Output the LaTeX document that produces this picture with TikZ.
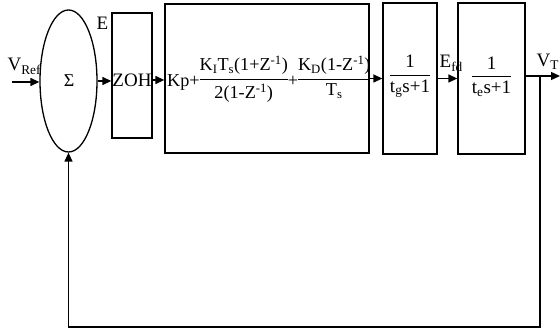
\documentclass[tikz,border=0pt]{standalone}
\usepackage{fontspec}
\usepackage{amsmath}
\setmainfont{Liberation Serif}
\usetikzlibrary{arrows.meta,shapes.geometric}

% transfer-function fraction with a heavier bar
\newcommand{\blockfrac}[2]{\genfrac{}{}{1.3pt}{0}{\text{#1}}{\text{#2}}}

\begin{document}
\begin{tikzpicture}[x=1pt,y=-1pt,line width=1.3pt,
  blk/.style={draw,line width=1.3pt,inner sep=0pt},
  lbl/.style={inner sep=0pt,font=\fontsize{19}{21}\selectfont},
  sig/.style={-{Triangle[length=9pt,width=8pt]}}]
\useasboundingbox (0,0) rectangle (560,331);

% summing junction
\node[blk,ellipse,minimum width=57pt,minimum height=142pt] (sum) at (68.5,81) {};
\node[inner sep=0pt,font=\fontsize{18}{20}\selectfont] (sigma) at (69,81) {Σ};

% blocks
\node[blk,minimum width=40pt,minimum height=125pt] (zoh) at (132,75.5) {};
\node[blk,minimum width=204pt,minimum height=149pt] (pid) at (267,78.5) {};
\node[blk,minimum width=54pt,minimum height=151pt] (b3) at (410,78.5) {};
\node[blk,minimum width=67pt,minimum height=151pt] (b4) at (491.5,78.5) {};

% block contents
\node[lbl,anchor=base] (zohtxt) at (132,87) {ZOH};
\node[lbl,anchor=base west,font=\fontsize{18.2}{20}\selectfont] (pidtxt) at (166.5,87) {\nulldelimiterspace=0pt Kp+\raisebox{3.5pt}{$\blockfrac{K\textsubscript{I}T\textsubscript{s}(1+Z\textsuperscript{-1})}{2(1-Z\textsuperscript{-1})}$}+\raisebox{3.5pt}{$\blockfrac{K\textsubscript{D}(1-Z\textsuperscript{-1})}{T\textsubscript{s}}$}};
\node[lbl] (g3) at (410,76.5) {$\blockfrac{1}{t\textsubscript{g}s+1}$};
\node[lbl] (g4) at (491.5,76.5) {$\blockfrac{1}{t\textsubscript{e}s+1}$};

% signal labels
\node[lbl,anchor=base west] (vref) at (7,71) {V\textsubscript{Ref}};
\node[lbl,anchor=base west] (elbl) at (96,30) {E};
\node[lbl,anchor=base west] (efd) at (439,68) {E\textsubscript{fd}};
\node[lbl,anchor=base west] (vt) at (536,67) {V\textsubscript{T}};

% signal flow
\coordinate (in) at (12,82);
\coordinate (out) at (560,76);
\coordinate (tap) at (540,76);
\draw[sig] (in) -- (in -| sum.west);
\draw[sig] (sum.east) -- (sum.east -| zoh.west);
\draw[sig] (zoh.east |- 0,80) -- (pid.west |- 0,80);
\draw[sig] (pid.east) -- (b3.west);
\draw[sig] (b3.east) -- (b4.west);
\draw[sig] (b4.east |- out) -- (out);

% feedback path
\draw[sig] (tap) -- (tap |- 0,327) -| (sum.south);
\end{tikzpicture}
\end{document}
